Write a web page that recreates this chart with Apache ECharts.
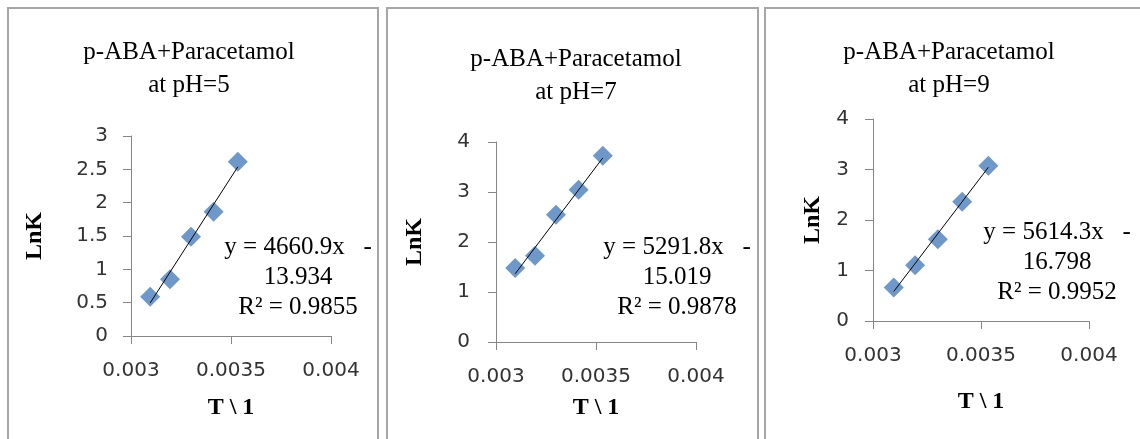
<!DOCTYPE html>
<html><head><meta charset="utf-8">
<script src="https://cdn.jsdelivr.net/npm/echarts@6/dist/echarts.min.js"></script>
<style>html,body{margin:0;padding:0;background:#fff}#c{width:1140px;height:439px}</style>
</head><body><div id="c"></div>
<script>
// ---- data ----
const invT = [0.003096, 0.003195, 0.003300, 0.003413, 0.003534];
const lnK_pH5 = [0.59, 0.85, 1.49, 1.865, 2.615];
const lnK_pH7 = [1.48, 1.727, 2.547, 3.047, 3.727];
const lnK_pH9 = [0.661, 1.104, 1.62, 2.36, 3.074];
const panelTitles = ['p-ABA+Paracetamol\nat pH=5', 'p-ABA+Paracetamol\nat pH=7', 'p-ABA+Paracetamol\nat pH=9'];
const slopes = [4660.9, 5291.8, 5614.3];
const intercepts = [13.934, 15.019, 16.798];
const r2 = [0.9855, 0.9878, 0.9952];
const xTickLabels = ['0.003', '0.0035', '0.004'];
const yMax = [3, 4, 4];
const yStep = [0.5, 1, 1];
const xName = 'T \\ 1';
const yName = 'LnK';

// ---- layout (positions only) ----
const L = [
  {grid:{left:131,top:136,width:200,height:200}, frame:[8,8,370,440], title:[189,68.5], eq:[298,277.5], xGap:72, yGap:96, yLab:23},
  {grid:{left:496,top:142,width:200,height:200}, frame:[387,8,371,440], title:[576,76], eq:[677,277.5], xGap:66, yGap:81, yLab:26},
  {grid:{left:873,top:119,width:216,height:202}, frame:[765,8,390,440], title:[949,69], eq:[1057,262], xGap:81, yGap:60, yLab:24}
];
const series_y = [lnK_pH5, lnK_pH7, lnK_pH9];

const axisColor = '#868686';
const grids = [], xAxes = [], yAxes = [], series = [], graphics = [];
L.forEach((p, i) => {
  grids.push(Object.assign({containLabel:false}, p.grid));
  xAxes.push({
    type:'value', gridIndex:i, min:0.003, max:0.004, interval:0.0005,
    axisLine:{show:true, onZero:false, lineStyle:{color:axisColor, width:1}},
    axisTick:{show:true, length:8, lineStyle:{color:axisColor}},
    splitLine:{show:false},
    axisLabel:{margin:25, color:'#333', fontFamily:'DejaVu Sans', fontSize:20,
      formatter:(v)=>{const k=Math.round((v-0.003)/0.0005); return xTickLabels[k] ?? '';}},
    name:xName, nameLocation:'middle', nameGap:p.xGap,
    nameTextStyle:{fontFamily:'Liberation Serif', fontWeight:'bold', fontSize:24, color:'#000', verticalAlign:'middle'}
  });
  yAxes.push({
    type:'value', gridIndex:i, min:0, max:yMax[i], interval:yStep[i],
    axisLine:{show:true, lineStyle:{color:axisColor, width:1}},
    axisTick:{show:true, length:8, lineStyle:{color:axisColor}},
    splitLine:{show:false},
    axisLabel:{margin:p.yLab, color:'#333', fontFamily:'DejaVu Sans', fontSize:20},
    name:yName, nameLocation:'middle', nameGap:p.yGap,
    nameTextStyle:{fontFamily:'Liberation Serif', fontWeight:'bold', fontSize:24, color:'#000', verticalAlign:'middle'}
  });
  series.push({
    type:'scatter', xAxisIndex:i, yAxisIndex:i, symbol:'diamond', symbolSize:[20,20],
    itemStyle:{color:'#4a7ebb'}, z:2,
    data: invT.map((x, j) => [x, series_y[i][j]])
  });
  const x0 = invT[0], x1 = invT[invT.length-1];
  series.push({
    type:'line', xAxisIndex:i, yAxisIndex:i, showSymbol:false, symbol:'none', z:3,
    lineStyle:{color:'#000', width:1}, silent:true,
    data:[[x0, slopes[i]*x0 - intercepts[i]], [x1, slopes[i]*x1 - intercepts[i]]]
  });
  graphics.push({type:'rect', shape:{x:p.frame[0], y:p.frame[1], width:p.frame[2], height:p.frame[3]},
    style:{fill:'none', stroke:'#a6a6a6', lineWidth:2}, z:0});
  graphics.push({type:'text', x:p.title[0], y:p.title[1],
    style:{text:panelTitles[i], fontFamily:'Liberation Serif', fontSize:25, lineHeight:33, fill:'#000',
      align:'center', verticalAlign:'middle'}});
  graphics.push({type:'text', x:p.eq[0], y:p.eq[1],
    style:{text:'y = ' + slopes[i] + 'x   -\n' + intercepts[i].toFixed(3) + '\nR\u00b2 = ' + r2[i],
      fontFamily:'Liberation Serif', fontSize:25, lineHeight:30, fill:'#000',
      align:'center', verticalAlign:'middle'}});
});

const chart = echarts.init(document.getElementById('c'));
chart.setOption({
  animation:false,
  backgroundColor:'#fff',
  grid:grids, xAxis:xAxes, yAxis:yAxes, series:series,
  graphic:graphics
});
</script>
</body></html>
